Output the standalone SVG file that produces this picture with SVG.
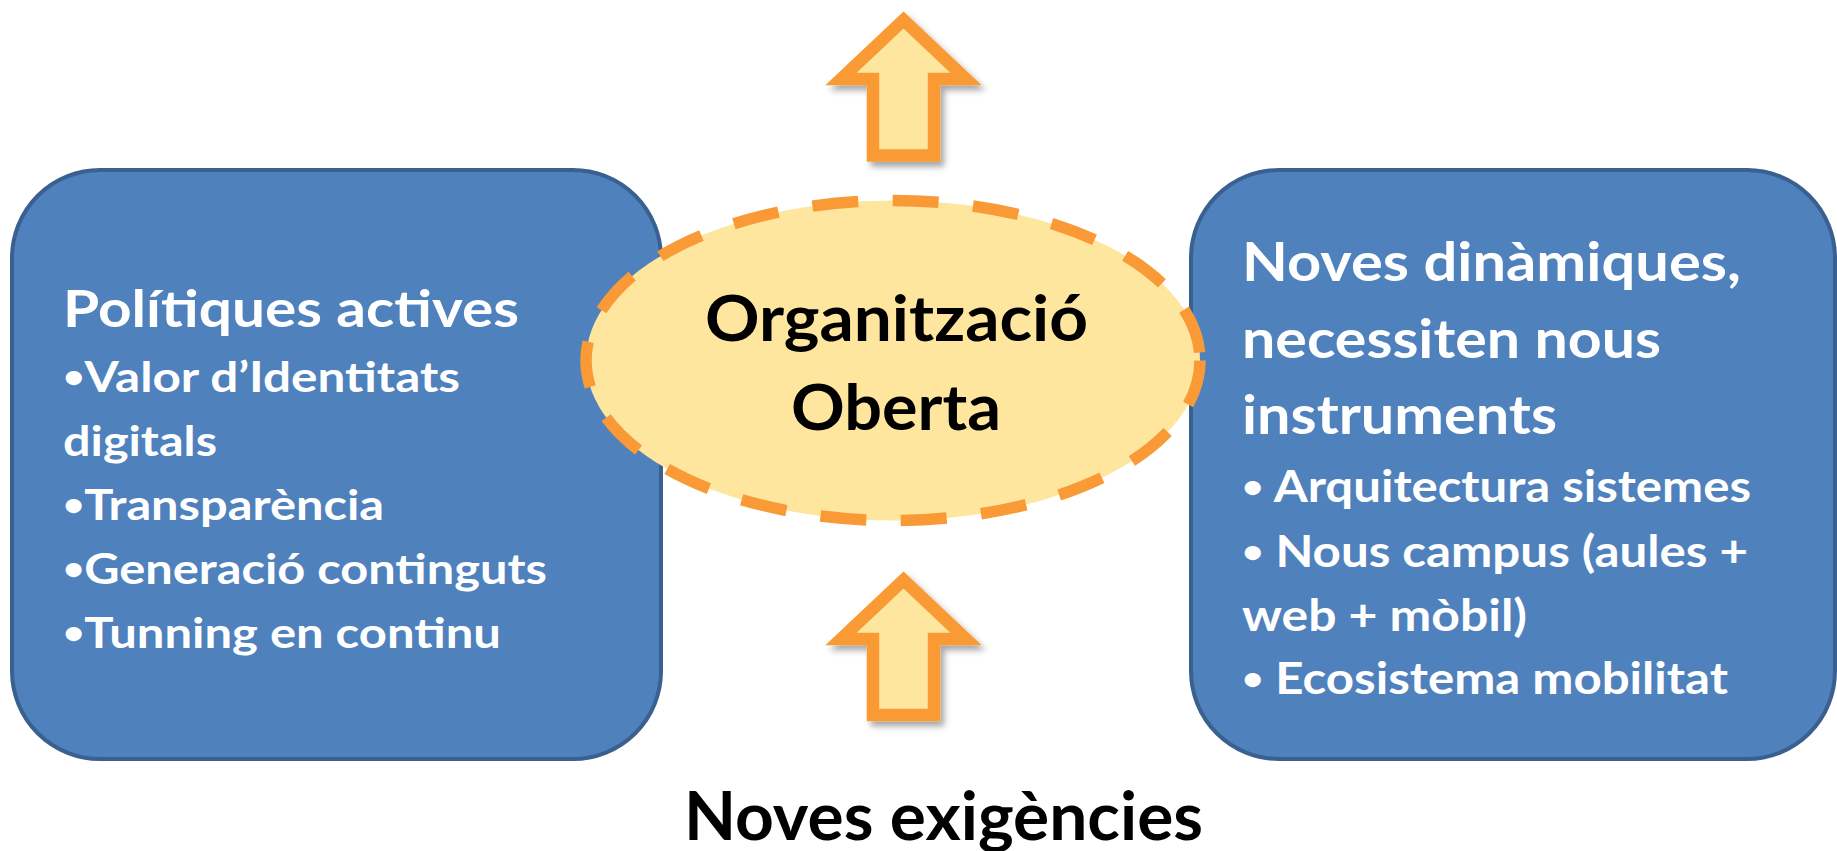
<svg xmlns="http://www.w3.org/2000/svg" width="1837" height="851" viewBox="0 0 1837 851">
<style>
.box{fill:#4F81BD;stroke:#3A6090;stroke-width:4}
.wt{fill:#FFFFFF;font-family:Lato,"Open Sans","Liberation Sans",sans-serif;font-weight:700}
.bk{fill:#000000;font-family:Lato,"Open Sans","Liberation Sans",sans-serif;font-weight:700}
.bu{font-size:75%}
.arrow{fill:#FFE69E;stroke:#F99A36;stroke-width:12.5;stroke-linejoin:miter;stroke-miterlimit:10}
.oval{fill:#FFE69E;stroke:#F99A36;stroke-width:11.5;stroke-dasharray:46 34.5}
</style>
<defs>
<filter id="sh" x="-30%" y="-30%" width="160%" height="160%">
<feDropShadow dx="4" dy="5" stdDeviation="3" flood-color="#000000" flood-opacity="0.35"/>
</filter>
</defs>
<g id="left-box">
<rect class="box" x="12" y="170" width="649" height="589" rx="88" ry="88"/>
<text class="wt" font-size="51" x="63" y="327" textLength="456" lengthAdjust="spacingAndGlyphs">Polítiques actives</text>
<text class="wt" font-size="42" x="63" y="392" textLength="397" lengthAdjust="spacingAndGlyphs"><tspan class="bu" dy="-4">•</tspan><tspan dy="4">Valor d’Identitats</tspan></text>
<text class="wt" font-size="42" x="63" y="456" textLength="154" lengthAdjust="spacingAndGlyphs">digitals</text>
<text class="wt" font-size="42" x="63" y="520" textLength="321" lengthAdjust="spacingAndGlyphs"><tspan class="bu" dy="-4">•</tspan><tspan dy="4">Transparència</tspan></text>
<text class="wt" font-size="42" x="63" y="584" textLength="484" lengthAdjust="spacingAndGlyphs"><tspan class="bu" dy="-4">•</tspan><tspan dy="4">Generació continguts</tspan></text>
<text class="wt" font-size="42" x="63" y="648" textLength="438" lengthAdjust="spacingAndGlyphs"><tspan class="bu" dy="-4">•</tspan><tspan dy="4">Tunning en continu</tspan></text>
</g>
<g id="right-box">
<rect class="box" x="1191" y="170" width="644" height="589" rx="88" ry="88"/>
<text class="wt" font-size="53" x="1242" y="281" textLength="499" lengthAdjust="spacingAndGlyphs">Noves dinàmiques,</text>
<text class="wt" font-size="53" x="1242" y="358" textLength="419" lengthAdjust="spacingAndGlyphs">necessiten nous</text>
<text class="wt" font-size="53" x="1242" y="434" textLength="315" lengthAdjust="spacingAndGlyphs">instruments</text>
<text class="wt" font-size="44" x="1242" y="502" textLength="509" lengthAdjust="spacingAndGlyphs"><tspan class="bu" dy="-4">•</tspan><tspan dy="4"> Arquitectura sistemes</tspan></text>
<text class="wt" font-size="44" x="1242" y="567" textLength="506" lengthAdjust="spacingAndGlyphs"><tspan class="bu" dy="-4">•</tspan><tspan dy="4"> Nous campus (aules +</tspan></text>
<text class="wt" font-size="44" x="1242" y="631" textLength="285" lengthAdjust="spacingAndGlyphs">web + mòbil)</text>
<text class="wt" font-size="44" x="1242" y="694" textLength="486" lengthAdjust="spacingAndGlyphs"><tspan class="bu" dy="-4">•</tspan><tspan dy="4"> Ecosistema mobilitat</tspan></text>
</g>
<g id="center-oval">
<ellipse class="oval" cx="893" cy="360.5" rx="307" ry="160"/>
<text class="bk" font-size="64" x="705" y="341" textLength="383" lengthAdjust="spacingAndGlyphs">Organització</text>
<text class="bk" font-size="64" x="791" y="430" textLength="210" lengthAdjust="spacingAndGlyphs">Oberta</text>
</g>
<g id="connectors">
<path class="arrow" filter="url(#sh)" d="M903.5,20 L966,79 L934,79 L934,155.5 L873,155.5 L873,79 L841,79 Z"/>
<path class="arrow" filter="url(#sh)" d="M903.5,580 L966,639 L934,639 L934,715 L873,715 L873,639 L841,639 Z"/>
</g>
<g id="bottom-label">
<text class="bk" font-size="66" x="684" y="840" textLength="519" lengthAdjust="spacingAndGlyphs">Noves exigències</text>
</g>
</svg>
